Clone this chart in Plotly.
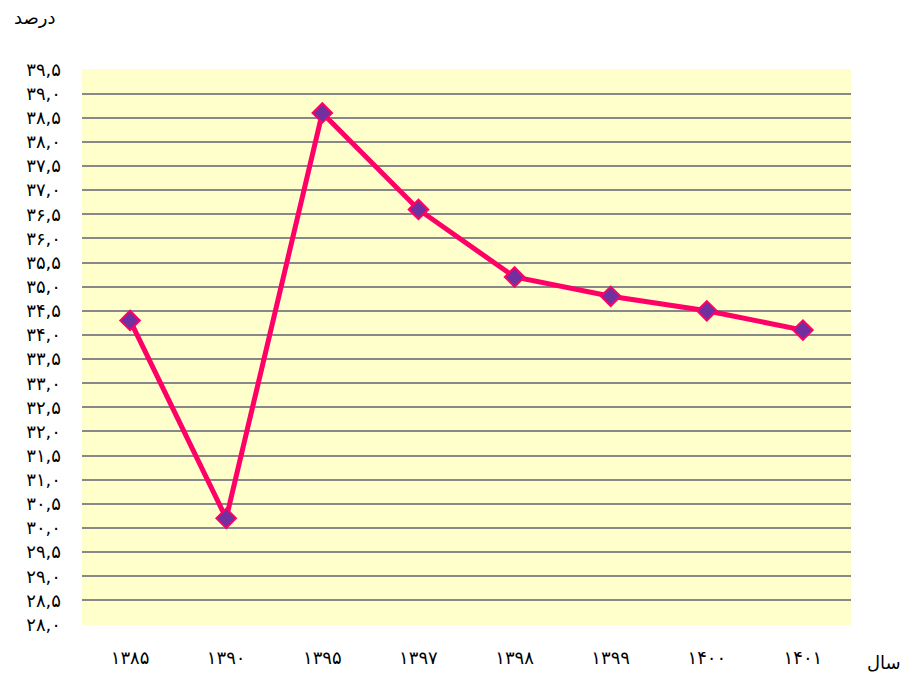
import plotly.graph_objects as go

years = ["۱۳۸۵", "۱۳۹۰", "۱۳۹۵", "۱۳۹۷", "۱۳۹۸", "۱۳۹۹", "۱۴۰۰", "۱۴۰۱"]
values = [34.3, 30.2, 38.6, 36.6, 35.2, 34.8, 34.5, 34.1]

tick_vals = [28 + 0.5 * i for i in range(24)]
digits = "۰۱۲۳۴۵۶۷۸۹"


def fa(s):
    return "".join(digits[int(c)] if c.isdigit() else c for c in s)


tick_text = [fa(f"{v:.1f}").replace(".", ",") for v in tick_vals]

fig = go.Figure()
fig.add_trace(go.Scatter(
    x=years, y=values, mode="lines+markers",
    line=dict(color="#FF0066", width=5),
    marker=dict(symbol="diamond", size=15, color="#7030A0",
                line=dict(color="#FF0066", width=2)),
))

font = dict(family="DejaVu Sans, sans-serif", size=18, color="#000000")

W, H = 900, 673
L, R, T, B = 74, 57, 61, 56
fig.update_layout(
    width=W, height=H,
    margin=dict(l=L, r=R, t=T, b=B),
    paper_bgcolor="white", plot_bgcolor="#FFFFCC",
    showlegend=False,
    font=font,
    xaxis=dict(type="category", range=[-0.5, 7.5], showgrid=False,
               zeroline=False, showline=False, ticks="",
               ticklabelstandoff=20, tickfont=font),
    yaxis=dict(range=[27.99, 39.51], tickvals=tick_vals, ticktext=tick_text,
               showgrid=True, gridcolor="#888888", gridwidth=2,
               zeroline=False, showline=False, ticks="",
               ticklabelstandoff=20, tickfont=font),
)
pw, ph = W - L - R, H - T - B


def ann(text, px, py, f=font):
    fig.add_annotation(text=text, x=(px - 8 - L) / pw, y=(H + 8 - B - py) / ph,
                       xref="paper", yref="paper", showarrow=False,
                       xanchor="center", yanchor="middle", font=f)


ann("درصد", 34, 18)
ann("سال", 884, 662)

fig.write_html("out.html")
